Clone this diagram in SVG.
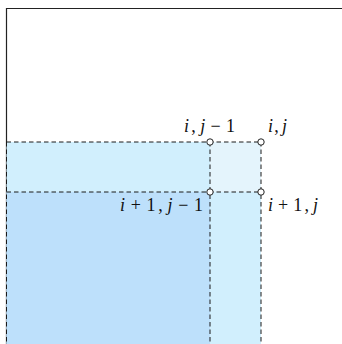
<svg xmlns="http://www.w3.org/2000/svg" width="342" height="344" viewBox="0 0 342 344">
<style>
.frame{fill:none;stroke:#222;stroke-width:1.2}
.dash{fill:none;stroke:#1a1a1a;stroke-width:1;stroke-dasharray:4.5 3}
.pt{fill:#fff;stroke:#222;stroke-width:1}
.lbl{font-family:"Liberation Serif",serif;font-size:18px;fill:#111}
.it{font-style:italic}
</style>
<rect width="342" height="344" fill="#fff"/>
<g id="frame">
<path class="frame" d="M6.5 344 V8.5 H342"/>
</g>
<g id="regions">
<rect id="region-i-j" x="6.5" y="142" width="254.5" height="202" fill="#d1effd"/>
<rect id="region-ip1-jm1" x="6.5" y="192" width="203.5" height="152" fill="#bde0fb"/>
<rect id="region-cell" x="210" y="142" width="51" height="50" fill="#e4f4fc"/>
</g>
<g id="connectors">
<path class="dash" d="M6.5 142 H261"/>
<path class="dash" d="M6.5 192 H261"/>
<path class="dash" d="M210 142 V344"/>
<path class="dash" d="M261 142 V344"/>
<path class="dash" d="M6.5 142 V344"/>
</g>
<g id="node-i-jm1">
<circle class="pt" cx="210" cy="142" r="3.2"/>
<text class="lbl" x="184" y="132" textLength="51" lengthAdjust="spacing"><tspan class="it">i</tspan>,<tspan class="it" dx="2">j</tspan><tspan dx="3">−</tspan><tspan dx="3">1</tspan></text>
</g>
<g id="node-i-j">
<circle class="pt" cx="261" cy="142" r="3.2"/>
<text class="lbl" x="268" y="132" textLength="19" lengthAdjust="spacing"><tspan class="it">i</tspan>,<tspan class="it" dx="2">j</tspan></text>
</g>
<g id="node-ip1-jm1">
<circle class="pt" cx="210" cy="192" r="3.2"/>
<text class="lbl" x="120" y="210.5" textLength="83" lengthAdjust="spacing"><tspan class="it">i</tspan><tspan dx="3">+</tspan><tspan dx="3">1,</tspan><tspan class="it" dx="2">j</tspan><tspan dx="3">−</tspan><tspan dx="3">1</tspan></text>
</g>
<g id="node-ip1-j">
<circle class="pt" cx="261" cy="192" r="3.2"/>
<text class="lbl" x="268" y="210.5" textLength="50" lengthAdjust="spacing"><tspan class="it">i</tspan><tspan dx="3">+</tspan><tspan dx="3">1,</tspan><tspan class="it" dx="2">j</tspan></text>
</g>
</svg>
